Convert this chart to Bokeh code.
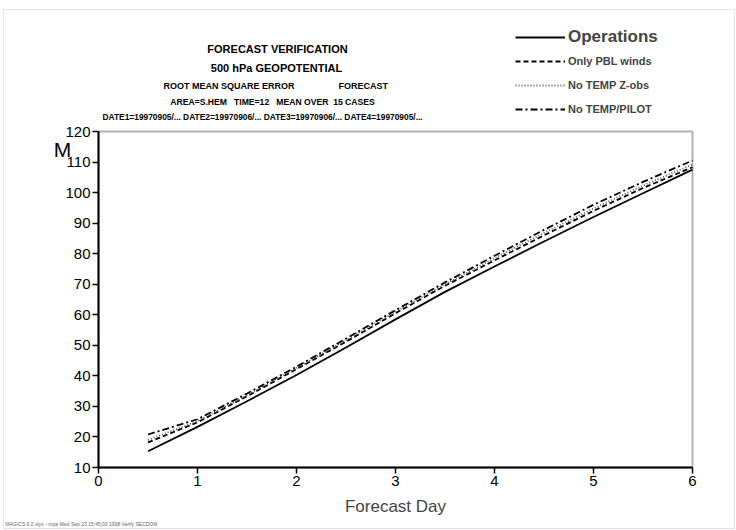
from bokeh.plotting import figure
from bokeh.models import Label, Legend, LegendItem, Range1d, FixedTicker, BoxAnnotation
from bokeh.embed import file_html
from bokeh.resources import INLINE

days = [0.5, 1.0, 1.5, 2.0, 2.5, 3.0, 3.5, 4.0, 4.5, 5.0, 5.5, 6.0]
operations = [15.3, 23.3, 31.7, 40.3, 49.3, 58.5, 67.5, 75.8, 84.0, 92.0, 99.8, 107.5]
only_pbl = [18.2, 24.8, 33.3, 42.2, 51.2, 60.5, 69.5, 77.8, 86.0, 94.0, 101.5, 108.3]
no_temp_z = [19.0, 25.2, 33.7, 42.6, 51.7, 61.0, 70.0, 78.5, 86.8, 94.8, 102.3, 109.2]
no_temp_pilot = [20.8, 25.8, 34.2, 43.0, 52.2, 61.5, 70.6, 79.3, 87.8, 96.0, 103.5, 110.5]

x_ticks = [0, 1, 2, 3, 4, 5, 6]
y_ticks = [10, 20, 30, 40, 50, 60, 70, 80, 90, 100, 110, 120]

FONT = "Liberation Sans"
NB = "\u00a0"

# canvas layout (pixels): plot box spans x 98..692, y 131..467
W, H = 736, 530
BOX_L, BOX_R, BOX_T, BOX_B = 98, 692, 131, 467
xs = (BOX_R - BOX_L) / (x_ticks[-1] - x_ticks[0])
ys = (BOX_B - BOX_T) / (y_ticks[-1] - y_ticks[0])
x_start = x_ticks[0] - BOX_L / xs
x_end = x_start + W / xs
y_start = y_ticks[0] - (H - BOX_B) / ys
y_end = y_start + H / ys

p = figure(width=W, height=H, output_backend="svg", toolbar_location=None,
           x_range=Range1d(x_start, x_end), y_range=Range1d(y_start, y_end),
           min_border=0, min_border_left=0, min_border_right=0,
           min_border_top=0, min_border_bottom=0)
p.grid.visible = False
p.outline_line_color = None
p.background_fill_color = "white"
p.border_fill_color = "white"

for ax in (p.xaxis[0], p.yaxis[0]):
    ax.axis_line_width = 2
    ax.axis_line_color = "black"
    ax.major_tick_line_width = 1.5
    ax.major_tick_out = 6
    ax.major_tick_in = 0
    ax.minor_tick_out = 0
    ax.minor_tick_in = 0
    ax.major_label_text_font = FONT
    ax.major_label_text_font_size = "15px"
    ax.major_label_text_color = "black"

p.xaxis.ticker = FixedTicker(ticks=x_ticks)
p.yaxis.ticker = FixedTicker(ticks=y_ticks)
p.xaxis.fixed_location = y_ticks[0]
p.yaxis.fixed_location = x_ticks[0]
p.xaxis.bounds = (x_ticks[0], x_ticks[-1])
p.yaxis.bounds = (y_ticks[0], y_ticks[-1])
p.xaxis.major_label_standoff = 2
p.yaxis.major_label_standoff = 2
p.xaxis.axis_label = "Forecast Day"
p.xaxis.axis_label_text_font = FONT
p.xaxis.axis_label_text_font_style = "normal"
p.xaxis.axis_label_text_font_size = "17px"
p.xaxis.axis_label_standoff = 8

# plot box
p.add_layout(BoxAnnotation(left=x_ticks[0], right=x_ticks[-1], bottom=y_ticks[0], top=y_ticks[-1],
                           fill_alpha=0, line_color="black", line_width=2))
# outer page border
p.add_layout(BoxAnnotation(left=3, right=734, bottom=2, top=521,
                           left_units="screen", right_units="screen",
                           bottom_units="screen", top_units="screen",
                           fill_alpha=0, line_color="#a0a0a0", line_width=1))

r_ops = p.line(days, operations, line_color="black", line_width=1.8)
r_pbl = p.line(days, only_pbl, line_color="black", line_width=1.8, line_dash="5 3")
r_z = p.line(days, no_temp_z, line_color="#555555", line_width=1.8, line_dash="1 2")
r_tp = p.line(days, no_temp_pilot, line_color="black", line_width=1.8, line_dash="7 3 2 3")

leg1 = Legend(items=[LegendItem(label="Operations", renderers=[r_ops])],
              location=(515, 482), label_text_font=FONT, label_text_font_style="bold",
              label_text_font_size="17px", glyph_width=50, glyph_height=22, label_height=22,
              label_standoff=3, padding=0, margin=0, spacing=0,
              border_line_color=None, background_fill_alpha=0)
leg2 = Legend(items=[LegendItem(label="Only PBL winds", renderers=[r_pbl]),
                     LegendItem(label="No TEMP Z-obs", renderers=[r_z]),
                     LegendItem(label="No TEMP/PILOT", renderers=[r_tp])],
              location=(515, 411), label_text_font=FONT, label_text_font_style="bold",
              label_text_font_size="11px", glyph_width=50, glyph_height=20, label_height=20,
              label_standoff=3, padding=0, margin=0, spacing=4,
              border_line_color=None, background_fill_alpha=0)
p.add_layout(leg1, "center")
p.add_layout(leg2, "center")


def lab(text, x, y, size, align="center", bold=True, color="black"):
    # x, y: pixel position from top-left of the page
    p.add_layout(Label(x=x, y=H - y, x_units="screen", y_units="screen", text=text,
                       text_font=FONT, text_font_size=size, text_align=align,
                       text_baseline="middle", text_color=color,
                       text_font_style="bold" if bold else "normal"))


lab("FORECAST VERIFICATION", 277, 48, "11px")
lab("500 hPa GEOPOTENTIAL", 276, 67, "11px")
lab("ROOT MEAN SQUARE ERROR", 163, 85, "9px", align="left")
lab("FORECAST", 338, 85, "9px", align="left")
lab("AREA=S.HEM" + NB * 3 + "TIME=12" + NB * 3 + "MEAN OVER" + NB * 2 + "15 CASES",
    272, 101, "8.6px")
lab("DATE1=19970905/... DATE2=19970906/... DATE3=19970906/... DATE4=19970905/...",
    102, 116, "8.4px", align="left")
lab("M", 62, 149, "21px", bold=False)
lab("MAGICS 6.2 styx - mpa Wed Sep 23 15:45:00 1998 Verify SECDOM", 5, 523, "5px",
    align="left", bold=False, color="#666666")

open("out.html", "w").write(file_html(p, INLINE))
